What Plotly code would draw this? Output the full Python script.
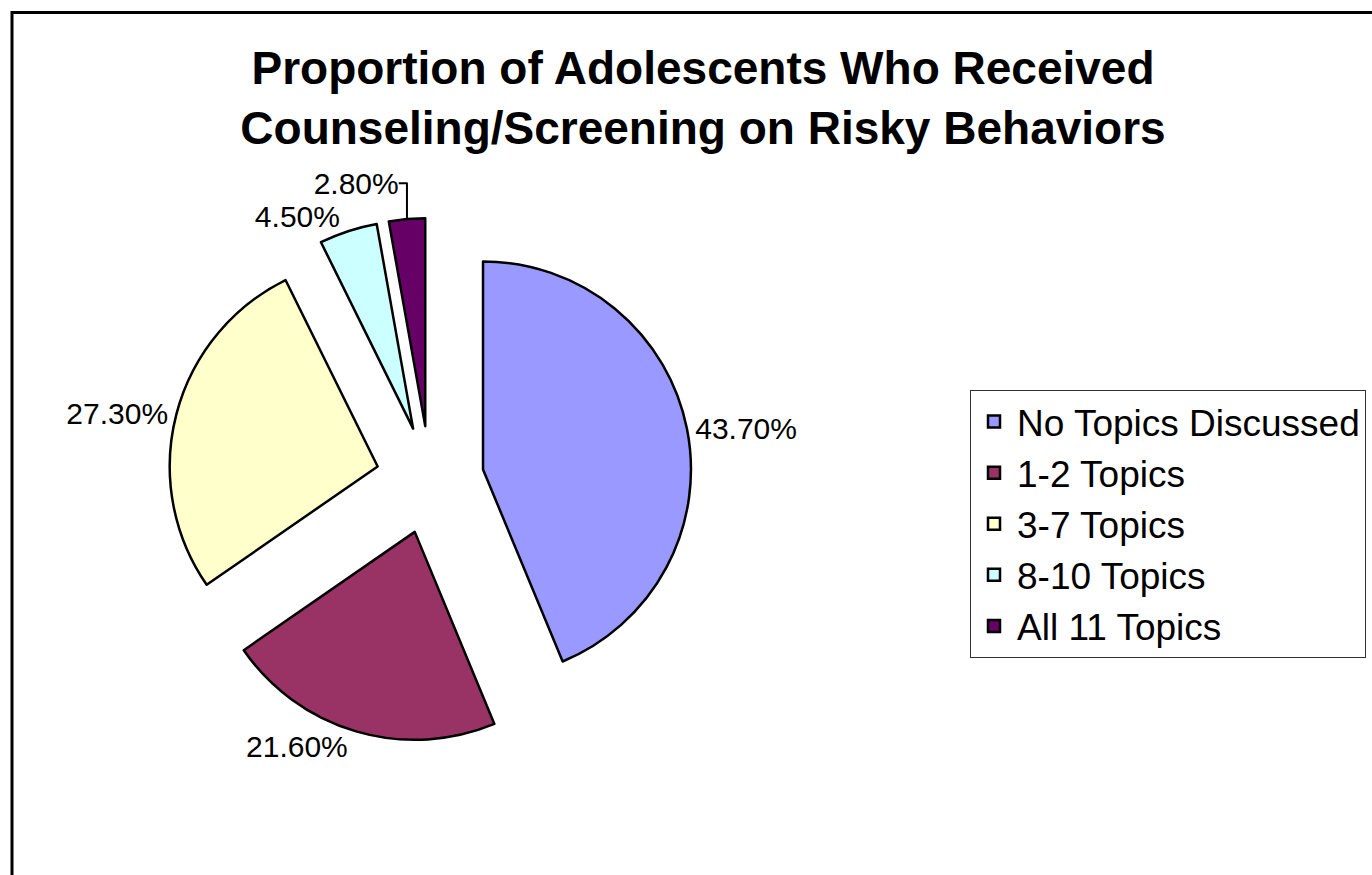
import plotly.graph_objects as go

categories = ["No Topics Discussed", "1-2 Topics", "3-7 Topics", "8-10 Topics", "All 11 Topics"]
values = [43.7, 21.6, 27.3, 4.5, 2.8]
colors = ["#9999FF", "#993366", "#FFFFCC", "#CCFFFF", "#660066"]
pulls = [0.26, 0.26, 0.26, 0.26, 0.26]
title_text = "Proportion of Adolescents Who Received<br>Counseling/Screening on Risky Behaviors"

W, H = 1372, 875
FONT = "Liberation Sans, Arial, sans-serif"


def px_x(x):
    return x / W


def px_y(y):
    return 1 - y / H


# pie box (pixels) -> paper domain
cx, cy, half = 430, 480, 262
dom_x = [px_x(cx - half), px_x(cx + half)]
dom_y = [px_y(cy + half), px_y(cy - half)]

fig = go.Figure(go.Pie(
    labels=categories,
    values=values,
    sort=False,
    direction="clockwise",
    rotation=0,
    pull=pulls,
    marker=dict(colors=colors, line=dict(color="black", width=2.5)),
    textposition="outside",
    texttemplate="%{value:.2f}%",
    textfont=dict(family=FONT, size=30, color="black"),
    domain=dict(x=dom_x, y=dom_y),
    hoverinfo="label+value",
))

fig.update_layout(
    width=W, height=H,
    margin=dict(l=0, r=0, t=0, b=0, autoexpand=False),
    paper_bgcolor="white",
    plot_bgcolor="white",
    font=dict(family=FONT, color="black"),
    title=dict(
        text=title_text,
        x=px_x(703), xanchor="center",
        y=1 - 84 / H, yanchor="top",
        font=dict(family=FONT, size=46, color="black", weight="bold"),
    ),
    legend=dict(
        x=px_x(970), xanchor="left",
        y=px_y(390), yanchor="top",
        font=dict(family=FONT, size=37, color="black"),
        bordercolor="#333333", borderwidth=1,
        bgcolor="white",
        traceorder="normal",
        itemwidth=36,
    ),
    shapes=[dict(
        type="rect", xref="paper", yref="paper",
        x0=px_x(12), x1=1.02, y0=-0.02, y1=px_y(12.5),
        line=dict(color="black", width=3),
        fillcolor="rgba(0,0,0,0)",
        layer="below",
    )],
)

fig.write_html(
    "out.html",
    config={"displayModeBar": False},
    post_script="document.body.style.margin='0';document.body.style.overflow='hidden';",
)
